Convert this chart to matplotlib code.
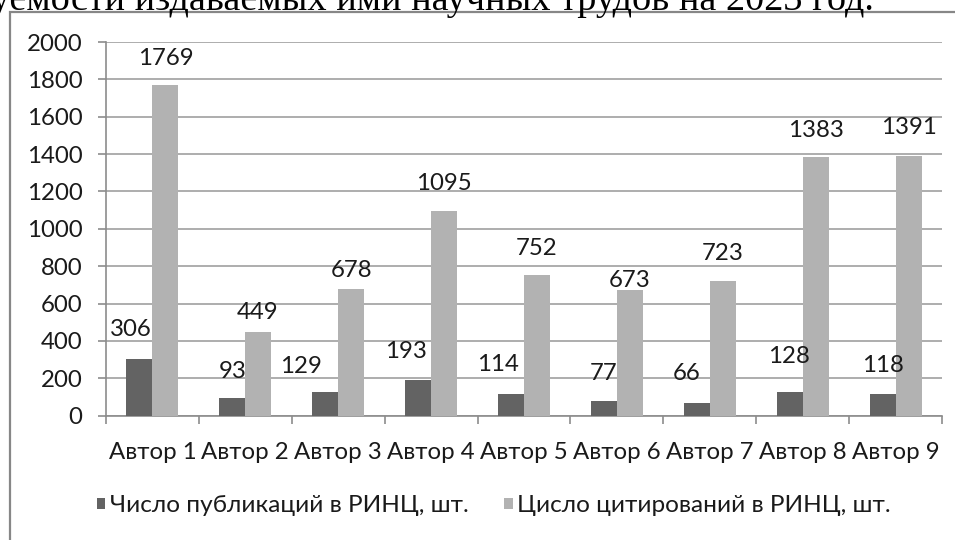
import numpy as np
import matplotlib
matplotlib.use('Agg')
import matplotlib.pyplot as plt
from matplotlib.patches import Rectangle

plt.rcParams['font.family'] = ['Lato', 'Open Sans', 'DejaVu Sans']

authors = ['Автор 1', 'Автор 2', 'Автор 3', 'Автор 4', 'Автор 5',
           'Автор 6', 'Автор 7', 'Автор 8', 'Автор 9']
publications = [306, 93, 129, 193, 114, 77, 66, 128, 118]
citations = [1769, 449, 678, 1095, 752, 673, 723, 1383, 1391]
series_names = ['Число публикаций в РИНЦ, шт.', 'Цисло цитирований в РИНЦ, шт.']
y_ticks = [0, 200, 400, 600, 800, 1000, 1200, 1400, 1600, 1800, 2000]
caption = 'цитируемости издаваемых ими научных трудов на 2023 год.'

# label shifts in pixels (as placed in the original chart)
pub_shift = [(-9, -29), (0, -27), (-24, -25), (-12, -28), (-13, -30),
             (0, -28), (-10, -30), (-1, -35), (0, -28)]
cit_shift = [(0, -27), (-1, -19), (0, -19), (0, -28), (0, -27),
             (0, -9), (0, -27), (0, -27), (0, -28)]

W, H = 955, 540
dark = '#636363'
light = '#b2b2b2'
txt = '#1a1a1a'
fs = 17.3

fig = plt.figure(figsize=(W / 100, H / 100), dpi=100)

# chart frame (runs off the page on the right and bottom)
fig.patches.append(Rectangle((10 / W, -0.1), 1.1, 1 - 12 / H + 0.1,
                             transform=fig.transFigure, fill=False,
                             edgecolor='#878787', linewidth=1.6))

fig.text(874 / W, 1 - 10 / H, caption, ha='right', va='baseline',
         family='Liberation Serif', fontsize=27.5, color='black')

ax = fig.add_axes([106 / W, 1 - 415.7 / H, 836 / W, (415.7 - 42) / H])
x = np.arange(len(authors))
bw = 0.28
b1 = ax.bar(x - bw / 2, publications, bw, color=dark, label=series_names[0], zorder=3)
b2 = ax.bar(x + bw / 2, citations, bw, color=light, label=series_names[1], zorder=3)

for rect, v, (dx, dy) in zip(b1, publications, pub_shift):
    ax.annotate(str(v), (rect.get_x() + rect.get_width() / 2, v),
                xytext=(dx, -dy), textcoords='offset pixels',
                ha='center', va='center', fontsize=fs, color=txt, zorder=4)
for rect, v, (dx, dy) in zip(b2, citations, cit_shift):
    ax.annotate(str(v), (rect.get_x() + rect.get_width() / 2, v),
                xytext=(dx, -dy), textcoords='offset pixels',
                ha='center', va='center', fontsize=fs, color=txt, zorder=4)

ax.set_xlim(-0.5, len(authors) - 0.5)
ax.set_ylim(0, 2000)
ax.set_yticks(y_ticks)
ax.set_yticklabels([str(t) for t in y_ticks])
ax.set_xticks(x)
ax.set_xticklabels(authors)
ax.set_xticks(np.arange(len(authors) + 1) - 0.5, minor=True)
ax.tick_params(axis='x', which='major', length=0, pad=19, labelsize=fs, labelcolor=txt)
ax.tick_params(axis='x', which='minor', length=6, width=1.2, color='#8c8c8c', direction='out')
ax.tick_params(axis='y', length=6, width=1.2, color='#8c8c8c', pad=11, labelsize=fs, labelcolor=txt)

ax.grid(axis='y', color='#a0a0a0', linewidth=1.2, zorder=0)
for s in ['top', 'right']:
    ax.spines[s].set_visible(False)
for s in ['left', 'bottom']:
    ax.spines[s].set_color('#8c8c8c')
    ax.spines[s].set_linewidth(1.2)

fig.legend(loc='center', bbox_to_anchor=(494 / W, 1 - 506 / H), ncol=2,
           frameon=False, fontsize=17.6, handlelength=0.34, handleheight=0.34,
           handletextpad=0.2, columnspacing=1.45, labelcolor=txt)

fig.savefig('out.png', dpi=100)
